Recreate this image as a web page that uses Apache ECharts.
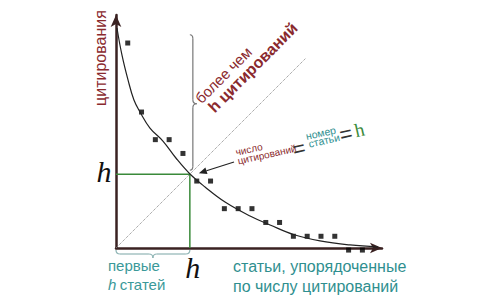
<!DOCTYPE html>
<html><head><meta charset="utf-8">
<script src="https://cdn.jsdelivr.net/npm/echarts@6/dist/echarts.min.js"></script>
<style>html,body{margin:0;padding:0;background:#fff}#c{width:480px;height:300px}</style>
</head><body><div id="c"></div>
<script>
// Articles ranked by number of citations
const articleRank = [1,2,3,4,5,6,7,8,9,10,11,12,13,14,15,16,17,18];
const citations   = [15,10,8,8,7,5,5,3,3,3,2,2,1,1,1,1,0,0];
// Smooth trend curve
const trendX = [0.22,0.58,1.02,1.45,1.89,2.61,3.55,4.49,5.51,6.60,8.05,9.86,11.31,13.12,14.93,17.1,19.13];
const trendY = [16.09,14.14,12.33,10.87,10.0,8.84,7.90,6.67,5.51,4.57,3.48,2.47,1.82,1.09,0.66,0.37,0.22];
const hValue = 5.5;
const diagonalEnd = 13.9;
const axisX = [0.15, 19.42];
const axisY = [0.15, 17.03];

const maroon = '#8a2a2e', teal = '#2f8f8f', green = '#3a8a3a';
const sans = '"Liberation Sans", Arial, sans-serif';
const serif = '"Liberation Serif", "Times New Roman", serif';

const chart = echarts.init(document.getElementById('c'), null, {renderer: 'svg'});
chart.setOption({
  animation: false,
  backgroundColor: '#fff',
  grid: {left: 116, right: 98, top: 15, bottom: 52},
  xAxis: {type: 'value', min: axisX[0], max: axisX[1],
    axisLine: {show: true, symbol: ['none', 'arrow'], symbolSize: [8, 12], lineStyle: {color: '#3a2222', width: 2.5}},
    axisTick: {show: false}, axisLabel: {show: false}, splitLine: {show: false}},
  yAxis: {type: 'value', min: axisY[0], max: axisY[1],
    axisLine: {show: true, symbol: ['none', 'arrow'], symbolSize: [8, 12], lineStyle: {color: '#3a2222', width: 2.5}},
    axisTick: {show: false}, axisLabel: {show: false}, splitLine: {show: false}},
  series: [
    {type: 'line', data: [[axisX[0], axisY[0]], [diagonalEnd, diagonalEnd]], showSymbol: false, silent: true,
     lineStyle: {color: '#888', width: 1, type: 'dotted'}},
    {type: 'line', data: [[axisX[0], hValue], [hValue, hValue], [hValue, axisY[0]]], showSymbol: false, silent: true,
     lineStyle: {color: green, width: 1.5}},
    {type: 'line', smooth: 0.4, data: trendX.map((x, i) => [x, trendY[i]]), showSymbol: false, silent: true,
     lineStyle: {color: '#222', width: 1.2}},
    {type: 'scatter', clip: false, symbol: 'rect', symbolSize: 5, itemStyle: {color: '#000'},
     data: articleRank.map((r, i) => [r, citations[i]])}
  ]
});

const px = (x, y) => chart.convertToPixel({gridIndex: 0}, [x, y]);
const hp = px(hValue, hValue);
const org = px(axisX[0], axisY[0]);
const q = (x1, y1, cx, cy, x2, y2, stroke) => ({type: 'bezierCurve',
  shape: {x1, y1, cpx1: cx, cpy1: cy, x2, y2}, style: {fill: 'none', stroke, lineWidth: 1.2}});
const ln = (x1, y1, x2, y2, stroke) => ({type: 'line', shape: {x1, y1, x2, y2}, style: {stroke, lineWidth: 1.2}});
// vertical brace
const bx = hp[0] + 3, bTop = px(0, 15.6)[1], bBot = hp[1] - 4, bMid = px(0, 10.6)[1];
const vc = '#777';
const vBrace = [
  q(bx - 3, bTop, bx, bTop, bx, bTop + 4, vc), ln(bx, bTop + 4, bx, bMid - 4, vc),
  q(bx, bMid - 4, bx, bMid, bx + 4, bMid, vc), q(bx + 4, bMid, bx, bMid, bx, bMid + 4, vc),
  ln(bx, bMid + 4, bx, bBot - 4, vc), q(bx, bBot - 4, bx, bBot, bx - 3, bBot, vc)];
// horizontal brace
const hy = org[1] + 3, hx0 = org[0], hx1 = hp[0], hm = (hx0 + hx1) / 2, hc = '#8fb5b5';
const hBrace = [
  q(hx0, hy - 1, hx0, hy + 3, hx0 + 4, hy + 3, hc), ln(hx0 + 4, hy + 3, hm - 4, hy + 3, hc),
  q(hm - 4, hy + 3, hm, hy + 3, hm, hy + 7, hc), q(hm, hy + 7, hm, hy + 3, hm + 4, hy + 3, hc),
  ln(hm + 4, hy + 3, hx1 - 4, hy + 3, hc), q(hx1 - 4, hy + 3, hx1, hy + 3, hx1, hy - 1, hc)];
// arrow
const tip = [hp[0] + 9, hp[1] - 1], tail = [234, 162];
const dx = tip[0] - tail[0], dy = tip[1] - tail[1], L = Math.hypot(dx, dy), ux = dx / L, uy = dy / L;
const base = [tip[0] - ux * 8, tip[1] - uy * 8];
const head = [[tip[0], tip[1]], [base[0] - uy * 3.5, base[1] + ux * 3.5], [base[0] + uy * 3.5, base[1] - ux * 3.5]];

chart.setOption({graphic: [
  ...vBrace, ...hBrace,
  {type: 'line', shape: {x1: tail[0], y1: tail[1], x2: base[0], y2: base[1]}, style: {stroke: '#222', lineWidth: 1.2}},
  {type: 'polygon', shape: {points: head}, style: {fill: '#222'}},
  {type: 'text', x: 100, y: 58, rotation: Math.PI / 2,
   style: {text: 'цитирования', font: '16px ' + sans, fill: maroon, align: 'center', verticalAlign: 'middle'}},
  {type: 'text', x: 233, y: 256,
   style: {text: 'статьи, упорядоченные\nпо числу цитирований', font: '16px ' + sans, fill: teal, lineHeight: 20}},
  {type: 'text', x: 108, y: 256,
   style: {text: '{a|первые}\n{b|h} {a|статей}', fill: '#3b9999', lineHeight: 19,
     rich: {a: {font: '15px ' + sans, fill: '#3b9999'}, b: {font: 'italic 15px ' + sans, fill: '#3b9999'}}}},
  {type: 'text', x: 104, y: 171,
   style: {text: 'h', font: 'italic 30px ' + serif, fill: '#111', align: 'center', verticalAlign: 'middle'}},
  {type: 'text', x: hp[0] + 3, y: 267,
   style: {text: 'h', font: 'italic 30px ' + serif, fill: '#111', align: 'center', verticalAlign: 'middle'}},
  {type: 'group', x: 203, y: 106, rotation: Math.PI / 4, children: [
    {type: 'text', x: 0, y: 0, style: {text: 'более чем', font: '15px ' + sans, fill: maroon, verticalAlign: 'bottom'}},
    {type: 'text', x: 3, y: 16, style: {text: 'h цитирований', font: 'bold 16px ' + sans, fill: maroon, verticalAlign: 'bottom'}}
  ]},
  {type: 'group', x: 239, y: 167, rotation: 0.22, children: [
    {type: 'text', x: 0, y: -10, style: {text: 'число', font: '10px ' + sans, fill: maroon, verticalAlign: 'bottom'}},
    {type: 'text', x: 0, y: -1, style: {text: 'цитирований', font: '10px ' + sans, fill: maroon, verticalAlign: 'bottom'}},
    {type: 'text', x: 56, y: -5, style: {text: '=', font: '22px ' + sans, fill: '#333', verticalAlign: 'middle'}},
    {type: 'text', x: 72, y: -10, style: {text: 'номер', font: '10.5px ' + sans, fill: teal, verticalAlign: 'bottom'}},
    {type: 'text', x: 73, y: -2, style: {text: 'статьи', font: '10.5px ' + sans, fill: teal, verticalAlign: 'bottom'}},
    {type: 'text', x: 105, y: -9, style: {text: '=', font: '22px ' + sans, fill: '#333', verticalAlign: 'middle'}},
    {type: 'text', x: 121, y: -10, style: {text: 'h', font: '19px ' + serif, fill: green, verticalAlign: 'middle'}}
  ]}
]});
</script></body></html>
